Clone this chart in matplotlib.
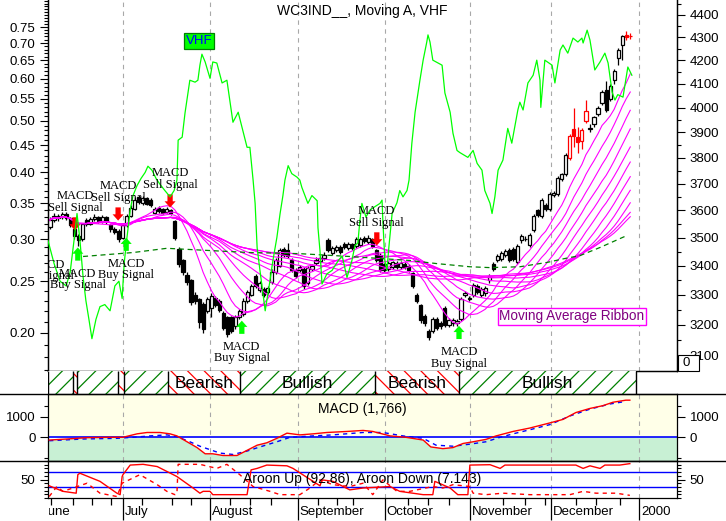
import numpy as np
import pandas as pd
import matplotlib
matplotlib.use("Agg")
import matplotlib.pyplot as plt
import matplotlib.patches as mpatches
import matplotlib.transforms as mtransforms
from matplotlib.lines import Line2D
from matplotlib.ticker import FixedLocator, NullFormatter, FuncFormatter

plt.rcParams['font.family'] = ['Liberation Sans', 'DejaVu Sans']
plt.rcParams['hatch.linewidth'] = 0.9

# ---------------- data (trading-day index, 0 = first candle) ----------------
opens = [3540, 3565, 3580, 3575, 3585, 3570, 3530, 3505, 3495, 3565,
         3550, 3568, 3575, 3560, 3575, 3545, 3532, 3525, 3500, 3545,
         3580, 3605, 3650, 3628, 3645, 3640, 3590, 3610, 3605, 3595,
         3600, 3560, 3460, 3420, 3370, 3350, 3300, 3285, 3270, 3245,
         3255, 3290, 3280, 3240, 3225, 3225, 3195, 3225, 3235, 3280,
         3300, 3365, 3318, 3320, 3310, 3345, 3380, 3400, 3460, 3455,
         3420, 3385, 3385, 3390, 3340, 3390, 3410, 3418, 3428, 3492,
         3445, 3455, 3465, 3478, 3462, 3476, 3470, 3475, 3500, 3485,
         3495, 3455, 3440, 3405, 3390, 3395, 3410, 3395, 3408, 3400,
         3375, 3300, 3265, 3230, 3180, 3180, 3220, 3205, 3255, 3200,
         3205, 3205, 3220, 3300, 3285, 3300, 3330, 3300, 3305, 3350,
         3405, 3420, 3425, 3440, 3455, 3460, 3415, 3490, 3495, 3472,
         3528, 3600, 3580, 3620, 3605, 3655, 3660, 3718, 3735, 3800,
         3915, 3880, 3865, 3945, 3915, 3935, 3975, 4020, 4075, 4035,
         4115, 4210, 4265, 4310, 4305]
closes = [3565, 3580, 3570, 3585, 3572, 3545, 3505, 3490, 3550, 3550,
          3568, 3575, 3560, 3575, 3560, 3530, 3520, 3495, 3545, 3580,
          3610, 3640, 3630, 3645, 3625, 3620, 3605, 3598, 3590, 3605,
          3590, 3500, 3405, 3380, 3345, 3275, 3280, 3210, 3185, 3285,
          3298, 3265, 3250, 3190, 3170, 3180, 3225, 3245, 3280, 3310,
          3330, 3330, 3340, 3300, 3325, 3380, 3420, 3455, 3440, 3435,
          3385, 3365, 3396, 3330, 3392, 3400, 3422, 3428, 3440, 3455,
          3462, 3465, 3450, 3465, 3476, 3462, 3495, 3495, 3488, 3500,
          3470, 3420, 3385, 3385, 3410, 3412, 3395, 3410, 3395, 3385,
          3330, 3280, 3215, 3205, 3160, 3220, 3190, 3195, 3200, 3215,
          3215, 3212, 3285, 3305, 3290, 3335, 3310, 3320, 3325, 3365,
          3390, 3435, 3445, 3452, 3420, 3425, 3470, 3505, 3497, 3510,
          3578, 3582, 3637, 3605, 3660, 3665, 3720, 3735, 3810, 3885,
          3885, 3860, 3910, 3985, 3918, 3960, 4000, 4065, 3990, 4090,
          4155, 4245, 4305, 4302, 4305]
highs = [3575, 3590, 3588, 3595, 3592, 3575, 3535, 3512, 3555, 3572,
         3575, 3585, 3580, 3582, 3580, 3550, 3538, 3530, 3550, 3585,
         3618, 3648, 3658, 3652, 3650, 3645, 3612, 3615, 3610, 3612,
         3606, 3565, 3465, 3425, 3378, 3355, 3310, 3290, 3275, 3292,
         3305, 3296, 3285, 3245, 3230, 3230, 3232, 3252, 3288, 3318,
         3338, 3372, 3348, 3328, 3332, 3388, 3428, 3462, 3468, 3480,
         3426, 3392, 3402, 3395, 3398, 3408, 3430, 3436, 3448, 3500,
         3470, 3472, 3472, 3485, 3484, 3482, 3502, 3502, 3506, 3508,
         3500, 3460, 3446, 3410, 3416, 3418, 3416, 3416, 3414, 3406,
         3380, 3306, 3270, 3236, 3186, 3226, 3226, 3212, 3262, 3222,
         3222, 3220, 3292, 3312, 3298, 3342, 3336, 3328, 3332, 3372,
         3412, 3442, 3452, 3460, 3462, 3466, 3478, 3512, 3506, 3518,
         3585, 3606, 3645, 3628, 3668, 3672, 3728, 3742, 3818, 3892,
         4000, 3920, 3918, 4030, 3935, 3968, 4008, 4072, 4110, 4100,
         4162, 4252, 4312, 4330, 4318]
lows = [3530, 3558, 3562, 3568, 3565, 3538, 3495, 3470, 3488, 3542,
        3545, 3560, 3552, 3555, 3550, 3522, 3512, 3485, 3495, 3540,
        3575, 3600, 3622, 3620, 3618, 3612, 3585, 3590, 3585, 3590,
        3582, 3490, 3395, 3370, 3335, 3265, 3268, 3190, 3175, 3238,
        3225, 3258, 3242, 3182, 3160, 3172, 3188, 3218, 3230, 3272,
        3295, 3322, 3310, 3292, 3302, 3338, 3372, 3395, 3432, 3428,
        3378, 3358, 3378, 3320, 3335, 3382, 3402, 3410, 3420, 3448,
        3438, 3448, 3442, 3458, 3455, 3455, 3462, 3468, 3480, 3478,
        3462, 3412, 3378, 3378, 3383, 3388, 3388, 3388, 3388, 3378,
        3322, 3272, 3205, 3196, 3150, 3172, 3182, 3188, 3192, 3192,
        3198, 3198, 3212, 3292, 3278, 3292, 3302, 3292, 3298, 3342,
        3382, 3412, 3418, 3432, 3412, 3418, 3408, 3482, 3488, 3465,
        3520, 3575, 3572, 3598, 3598, 3648, 3652, 3710, 3728, 3792,
        3840, 3820, 3835, 3938, 3900, 3920, 3965, 4010, 3982, 4028,
        4100, 4180, 4200, 4290, 4292]
red_days = [129, 130, 131, 132, 133, 143, 144]
ribbon_periods = [10, 15, 20, 25, 30, 35, 40, 45, 50, 55, 60]

ma_day = [8.2, 20.6, 29.0, 39.7, 49.6, 62.0, 74.4, 89.3, 96.0, 104.2,
          109.2, 116.6, 123.3, 127.8, 131.5, 136.5, 143.2]
ma_val = [3433, 3447, 3462, 3454, 3447, 3443, 3433, 3419, 3408, 3397,
          3394, 3397, 3412, 3426, 3436, 3465, 3508]

vhf_day = [-0.5, 1.0, 2.5, 4.0, 5.0, 6.0, 6.7, 7.4, 8.2, 8.9,
           9.7, 10.4, 11.4, 12.4, 13.6, 14.9, 16.1, 17.1, 17.9, 18.4,
           19.1, 19.9, 20.6, 21.6, 22.6, 23.6, 24.3, 25.3, 26.3, 27.3,
           28.5, 29.8, 30.8, 31.5, 31.8, 32.8, 33.5, 34.7, 36.0, 36.7,
           37.2, 37.7, 38.5, 39.7, 40.4, 41.4, 42.7, 43.9, 45.4, 46.7,
           48.9, 49.6, 50.4, 50.9, 51.4, 52.1, 53.4, 54.6, 55.3, 56.3,
           57.1, 57.8, 58.3, 59.1, 60.0, 61.3, 62.0, 62.5, 64.0, 65.0,
           66.3, 66.5, 67.0, 67.5, 68.7, 70.0, 71.5, 72.5, 73.7, 74.9,
           75.7, 76.4, 76.9, 77.4, 78.4, 79.4, 80.6, 81.9, 82.4, 82.6,
           83.1, 83.6, 84.1, 84.9, 86.1, 86.8, 87.6, 88.6, 89.1, 89.8,
           90.6, 91.8, 92.6, 93.5, 93.8, 94.3, 95.0, 97.3, 98.0, 99.3,
           100.0, 101.0, 101.7, 103.7, 105.0, 106.0, 107.2, 107.9, 109.2, 109.7,
           110.4, 111.2, 112.4, 113.6, 114.6, 116.1, 116.6, 117.4, 118.6, 119.9,
           120.8, 121.6, 121.8, 122.8, 124.6, 125.3, 126.6, 127.3, 128.5, 129.8,
           131.0, 132.0, 132.3, 133.3, 134.0, 135.2, 136.5, 137.7, 138.5, 139.5,
           140.2, 140.9, 142.2, 143.4, 144.4]
vhf_val = [0.298, 0.270, 0.250, 0.245, 0.260, 0.300, 0.335, 0.300, 0.255, 0.230,
           0.211, 0.195, 0.212, 0.224, 0.226, 0.220, 0.245, 0.250, 0.232, 0.270,
           0.302, 0.340, 0.362, 0.378, 0.390, 0.400, 0.411, 0.404, 0.390, 0.380,
           0.370, 0.360, 0.370, 0.387, 0.460, 0.466, 0.517, 0.596, 0.591, 0.596,
           0.636, 0.667, 0.645, 0.601, 0.645, 0.642, 0.589, 0.596, 0.497, 0.519,
           0.446, 0.446, 0.387, 0.350, 0.289, 0.262, 0.220, 0.251, 0.273, 0.302,
           0.335, 0.362, 0.387, 0.412, 0.398, 0.392, 0.387, 0.375, 0.350, 0.362,
           0.354, 0.315, 0.285, 0.247, 0.258, 0.262, 0.273, 0.279, 0.254, 0.273,
           0.292, 0.295, 0.325, 0.350, 0.330, 0.340, 0.345, 0.350, 0.355, 0.325,
           0.273, 0.262, 0.290, 0.335, 0.351, 0.370, 0.360, 0.370, 0.387, 0.454,
           0.519, 0.596, 0.650, 0.703, 0.725, 0.703, 0.650, 0.636, 0.564, 0.519,
           0.474, 0.440, 0.436, 0.427, 0.440, 0.416, 0.404, 0.370, 0.350, 0.335,
           0.360, 0.404, 0.422, 0.484, 0.454, 0.524, 0.542, 0.524, 0.589, 0.609,
           0.650, 0.596, 0.530, 0.650, 0.636, 0.589, 0.679, 0.694, 0.670, 0.715,
           0.703, 0.715, 0.700, 0.740, 0.709, 0.623, 0.645, 0.670, 0.642, 0.566,
           0.547, 0.560, 0.554, 0.631, 0.609]

sell_day = [6.2, 16.9, 29.8, 81.1]
sell_tip = [3526, 3562, 3610, 3472]
buy_day = [-1.0, 6.9, 18.9, 47.6, 101.5]
buy_tip = [3497, 3465, 3500, 3214, 3197]

band_bounds = [-0.5, 5.7, 6.7, 16.9, 18.4, 29.3, 47.1, 80.6, 101.5, 145.4]
band_state = ['Bullish', 'Bearish', 'Bullish', 'Bearish', 'Bullish',
              'Bearish', 'Bullish', 'Bearish', 'Bullish']

macd_day = [-0.2, 4.2, 9.2, 14.9, 18.1, 21.6, 24.1, 27.3, 29.8, 31.5,
            34.0, 36.5, 38.5, 40.4, 42.9, 46.4, 48.9, 51.4, 53.8, 56.3,
            58.8, 62.0, 65.3, 68.7, 73.7, 77.7, 80.1, 84.4, 88.3, 92.6,
            94.5, 97.5, 100.0, 102.5, 105.0, 108.2, 110.7, 114.9, 119.1, 124.1,
            127.3, 130.5, 134.0, 137.2, 139.7, 142.9, 143.9]
macd_val = [-133, -83, -17, 0, 0, 167, 233, 233, 167, 67,
            -217, -500, -800, -800, -883, -883, -633, -383, -267, -50,
            200, 117, 167, 233, 283, 333, 283, 67, 0, -133,
            -467, -550, -500, -300, -217, -100, 67, 283, 450, 700,
            867, 1200, 1400, 1533, 1700, 1800, 1800]
sig_day = [-0.2, 8.2, 16.6, 20.6, 24.8, 29.0, 31.5, 34.7, 37.2, 39.7,
           42.2, 45.4, 48.9, 52.1, 56.3, 59.6, 65.3, 70.2, 77.7, 82.6,
           87.6, 92.6, 95.8, 100.0, 104.2, 108.2, 111.7, 114.9, 119.1, 124.1,
           129.0, 134.0, 139.0, 142.7]
sig_val = [-167, -83, -50, 0, 67, 117, 33, -217, -433, -600,
           -767, -833, -667, -467, -217, 0, 67, 117, 233, 233,
           67, -50, -383, -433, -333, -217, 0, 167, 367, 617,
           1033, 1367, 1617, 1733]

up_day = [-0.2, 3.2, 6.5, 6.9, 7.4, 12.4, 16.6, 17.4, 17.9, 18.1,
          19.9, 23.1, 26.6, 31.5, 35.5, 37.2, 38.0, 39.7, 40.4, 48.9,
          49.9, 51.4, 53.8, 58.8, 60.3, 67.0, 67.5, 70.2, 74.4, 77.7,
          84.4, 86.8, 92.6, 95.0, 95.5, 99.3, 101.2, 103.7, 104.2, 109.2,
          111.7, 112.9, 130.5, 132.3, 134.0, 136.5, 137.7, 141.4, 143.9]
up_val = [33, 18, 13, 63, 67, 45, 13, 9, 58, 63,
          89, 91, 85, 58, 27, 13, 18, 18, 9, 9,
          76, 80, 89, 87, 80, 33, 49, 45, 22, 27,
          31, 18, 9, 9, 45, 27, 9, 9, 89, 90,
          80, 89, 89, 80, 87, 80, 89, 89, 92.86]
down_day = [-0.2, 1.7, 3.2, 5.7, 9.2, 12.4, 16.6, 17.9, 22.3, 26.6,
            29.0, 31.0, 31.5, 31.8, 37.2, 41.4, 43.9, 47.1, 50.4, 54.6,
            57.1, 62.0, 64.5, 67.0, 70.2, 74.4, 77.7, 80.1, 82.6, 86.1,
            89.3, 95.0, 97.5, 100.0, 104.2, 105.0, 108.2, 112.4, 119.1, 124.1,
            129.0, 132.3, 135.5, 140.5, 143.9]
down_val = [4, 31, 18, 27, 40, 13, 4, 40, 63, 36,
            18, 9, 13, 91, 91, 80, 91, 63, 31, 18,
            9, 9, 27, 49, 36, 31, 40, 9, 49, 18,
            18, 31, 27, 36, 31, 13, 9, 13, 9, 9,
            9, 18, 13, 13, 7.14]

month_day = [-2.4, 18.1, 39.7, 61.5, 83.1, 104.2, 124.3, 146.2]
month_name = ['June', 'July', 'August', 'September', 'October', 'November',
              'December', '2000']
week_day = [0.25, 5.7, 10.4, 15.1, 22.8, 30.3, 35.0, 44.7, 49.6, 54.8,
            66.5, 71.2, 75.2, 88.8, 93.8, 99.0, 112.4, 117.9, 122.8, 130.5,
            135.5, 141.4]

# ---------------- layout ----------------
W, H = 726, 521
fig = plt.figure(figsize=(W / 100, H / 100), dpi=100)
fig.patch.set_facecolor('white')


def box(x0, y0, x1, y1):
    return [x0 / W, 1 - y1 / H, (x1 - x0) / W, (y1 - y0) / H]


GRID = '#a8a8a8'
MAG = '#ff00ff'
LIME = '#00ff00'
TICK_FS = 9.5

ax = fig.add_axes(box(48, 0, 677, 371))
axv = ax.twinx()          # VHF scale on the left, price on the right
band = fig.add_axes(box(48, 371, 677, 394), sharex=ax)
axm = fig.add_axes(box(48, 394, 677, 461), sharex=ax)
axa = fig.add_axes(box(48, 461, 677, 498), sharex=ax)
ax.set_xlim(-0.5, 155.6)

month_grid = month_day[1:]

# ---------------- main price panel ----------------
ax.set_yscale('log')
ax.set_ylim(3052, 4468)
ax.yaxis.set_major_locator(FixedLocator(list(range(3100, 4401, 100))))
ax.yaxis.set_major_formatter(FuncFormatter(lambda v, p: f'{v:.0f}'))
ax.yaxis.set_minor_locator(FixedLocator(list(range(3050, 4451, 100))))
ax.yaxis.set_minor_formatter(NullFormatter())
ax.tick_params(axis='y', which='both', left=False, labelleft=False,
               right=True, labelright=True, direction='out', width=0.8)
ax.tick_params(axis='y', which='major', length=6, labelsize=TICK_FS, pad=3)
ax.tick_params(axis='y', which='minor', length=3)
ax.tick_params(axis='x', which='both', bottom=False, labelbottom=False)
for s in ax.spines.values():
    s.set_linewidth(0.9)
ax.spines['top'].set_visible(False)

for d in month_grid:
    ax.axvline(d, color=GRID, ls=(0, (4, 4)), lw=0.8, zorder=0)

days = np.arange(len(closes))
o = np.array(opens, float)
c = np.array(closes, float)
hi = np.array(highs, float)
lo = np.array(lows, float)
col = np.array(['#ff0000' if i in red_days else 'black' for i in days])
face = np.where(c >= o, 'white', col)
ax.vlines(days, lo, hi, colors=col, lw=0.9, zorder=2)
ax.bar(days, np.maximum(np.abs(c - o), 2), bottom=np.minimum(o, c), width=0.78,
       color=face, edgecolor=col, linewidth=0.9, zorder=3)

cs = pd.Series(c)
for n in ribbon_periods:
    ax.plot(days, cs.rolling(n, min_periods=1).mean(), color=MAG, lw=0.8, zorder=4)
ax.plot(ma_day, ma_val, color='#008000', ls=(0, (4, 3)), lw=0.9, zorder=4)

# VHF on the left axis
axv.set_yscale('log')
axv.set_ylim(0.1696, 0.843)
vt = [0.20, 0.25, 0.30, 0.35, 0.40, 0.45, 0.50, 0.55, 0.60, 0.65, 0.70, 0.75]
axv.yaxis.set_major_locator(FixedLocator(vt))
axv.yaxis.set_major_formatter(FuncFormatter(lambda v, p: f'{v:.2f}'))
axv.yaxis.set_minor_locator(FixedLocator([k / 100 for k in range(17, 85)]))
axv.yaxis.set_minor_formatter(NullFormatter())
axv.tick_params(axis='y', which='both', left=True, labelleft=True,
                right=False, labelright=False, direction='out', width=0.8)
axv.tick_params(axis='y', which='major', length=6, labelsize=TICK_FS, pad=3)
axv.tick_params(axis='y', which='minor', length=3)
axv.spines['top'].set_visible(False)
for s in axv.spines.values():
    s.set_linewidth(0.9)
axv.plot(vhf_day, vhf_val, color=LIME, lw=0.9, zorder=5)

# MACD signal arrows and labels
arrow_style = 'simple,head_length=0.45,head_width=0.8,tail_width=0.38'
serif = ['Liberation Serif', 'DejaVu Serif']
for d, p in zip(sell_day, sell_tip):
    axv.annotate('', xy=(d, p), xycoords=ax.transData, xytext=(0, 9.5),
                 textcoords='offset points', annotation_clip=False,
                 arrowprops=dict(arrowstyle=arrow_style, mutation_scale=10,
                                 fc='#ff0000', ec='none', shrinkA=0, shrinkB=0))
    axv.annotate('MACD\nSell Signal', xy=(d, p), xycoords=ax.transData,
                 xytext=(0, 12), textcoords='offset points', ha='center',
                 va='bottom', fontsize=9, family=serif, linespacing=0.95,
                 annotation_clip=False, clip_on=True, zorder=6)
for d, p in zip(buy_day, buy_tip):
    if d >= -0.5:
        axv.annotate('', xy=(d, p), xycoords=ax.transData, xytext=(0, -9.5),
                     textcoords='offset points', annotation_clip=False,
                     arrowprops=dict(arrowstyle=arrow_style, mutation_scale=10,
                                     fc=LIME, ec='none', shrinkA=0, shrinkB=0))
    axv.annotate('MACD\nBuy Signal', xy=(d, p), xycoords=ax.transData,
                 xytext=(0, -14.5), textcoords='offset points', ha='center',
                 va='top', fontsize=9, family=serif, linespacing=0.95,
                 annotation_clip=False, clip_on=True, zorder=6)

axv.text(0.240, 0.8895, 'VHF', transform=axv.transAxes, ha='center', va='center',
         color='#0000ff', fontsize=9.5, zorder=7,
         bbox=dict(boxstyle='square,pad=0.12', fc=LIME, ec='#008000', lw=0.9))
axv.text(0.833, 0.147, 'Moving Average Ribbon', transform=axv.transAxes,
         ha='center', va='center', color='#800080', fontsize=9.8, zorder=7,
         bbox=dict(boxstyle='square,pad=0.1', fc='white', ec=MAG, lw=1))

# ---------------- bullish / bearish band ----------------
band.set_ylim(0, 1)
band.set_axis_off()
for i, st in enumerate(band_state):
    s, e = band_bounds[i], band_bounds[i + 1]
    hc = '#008000' if st == 'Bullish' else '#ff0000'
    hp = '//' if st == 'Bullish' else '\\\\'
    band.add_patch(mpatches.Rectangle((s, 0), e - s, 1, facecolor='white',
                                      edgecolor=hc, hatch=hp, lw=0, zorder=1))
    if e - s > 15:
        band.text((s + e) / 2, 0.47, st, ha='center', va='center',
                  fontsize=12.5, zorder=3)
band.vlines(band_bounds, 0, 1, colors='black', lw=1, zorder=2)

# ---------------- MACD panel ----------------
axm.set_ylim(-1150, 2100)
axm.axhspan(0, 2100, color='#ffffe8', lw=0, zorder=0)
axm.axhspan(-1150, 0, color='#c8f0d4', lw=0, zorder=0)
mv = np.array(macd_val, float)
axm.fill_between(macd_day, 0, mv, where=mv < 0, interpolate=True,
                 color='white', lw=0, zorder=0.5)
for d in month_grid:
    axm.axvline(d, color=GRID, ls=(0, (4, 4)), lw=0.8, zorder=1)
axm.axhline(0, color='#0000ff', lw=1.2, zorder=2)
axm.plot(sig_day, sig_val, color='#0000ff', ls=(0, (3, 3)), lw=1, zorder=3)
axm.plot(macd_day, macd_val, color='#ff0000', lw=1, zorder=4)
axm.text(0.5, 0.777, 'MACD (1,766)', transform=axm.transAxes, ha='center',
         va='center', fontsize=10, zorder=5)
axm.yaxis.set_major_locator(FixedLocator([0, 1000]))
axm.yaxis.set_minor_locator(FixedLocator([-1000, 1500]))
axm.tick_params(axis='y', which='both', direction='out', left=True, right=True,
                labelleft=True, labelright=True, width=0.8, labelsize=TICK_FS, pad=3)
axm.tick_params(axis='y', which='major', length=6)
axm.tick_params(axis='y', which='minor', length=3)
axm.tick_params(axis='x', which='both', bottom=False, labelbottom=False)
for s in axm.spines.values():
    s.set_linewidth(0.9)

# ---------------- Aroon panel ----------------
axa.set_ylim(0, 100)
for d in month_grid:
    axa.axvline(d, color=GRID, ls=(0, (4, 4)), lw=0.8, zorder=1)
axa.axhline(70, color='#0000ff', lw=1, zorder=2)
axa.axhline(30, color='#0000ff', lw=1, zorder=2)
axa.plot(up_day, up_val, color='#ff0000', lw=1, zorder=3)
axa.plot(down_day, down_val, color='#ff0000', ls=(0, (3, 3)), lw=1, zorder=3)
axa.text(0.5, 0.5, 'Aroon Up (92.86), Aroon Down (7.143)', transform=axa.transAxes,
         ha='center', va='center', fontsize=10, zorder=4)
axa.yaxis.set_major_locator(FixedLocator([50]))
axa.yaxis.set_minor_locator(FixedLocator([0, 10, 20, 30, 40, 60, 70, 80, 90, 100]))
axa.tick_params(axis='y', which='both', direction='out', left=True, right=True,
                labelleft=True, labelright=True, width=0.8, labelsize=TICK_FS, pad=3)
axa.tick_params(axis='y', which='major', length=6)
axa.tick_params(axis='y', which='minor', length=3)
axa.xaxis.set_major_locator(FixedLocator(month_day))
axa.xaxis.set_minor_locator(FixedLocator(week_day))
axa.tick_params(axis='x', which='major', direction='out', length=16, width=0.9,
                labelbottom=False)
axa.tick_params(axis='x', which='minor', direction='out', length=5, width=0.9)
for s in axa.spines.values():
    s.set_linewidth(0.9)

# month labels, clipped at the left edge of the plot
trans = mtransforms.blended_transform_factory(axa.transData, fig.transFigure)
clip = mtransforms.TransformedBbox(mtransforms.Bbox.from_extents(49 / W, 0, 1, 1),
                                   fig.transFigure)
for d, name in zip(month_day, month_name):
    t = fig.text(d + 0.45, 1 - 512 / H, name, transform=trans, ha='left',
                 va='center', fontsize=TICK_FS)
    t.set_clip_box(clip)
    t.set_clip_on(True)

# panel separators running across the whole figure
for py in (394, 461):
    fig.add_artist(Line2D([0, 1], [1 - py / H] * 2, transform=fig.transFigure,
                          color='black', lw=1))

fig.text(362 / W, 1 - 11 / H, 'WC3IND__, Moving A, VHF', ha='center',
         va='center', fontsize=10)

# small value box at the lower right of the price panel
fig.add_artist(mpatches.Rectangle((678 / W, 1 - 371 / H), 21 / W, 16 / H,
                                  transform=fig.transFigure, fc='white',
                                  ec='black', lw=0.8, zorder=10))
fig.text(686 / W, 1 - 363 / H, '0', ha='center', va='center', fontsize=TICK_FS,
         zorder=11)

fig.savefig('out.png', dpi=100)
